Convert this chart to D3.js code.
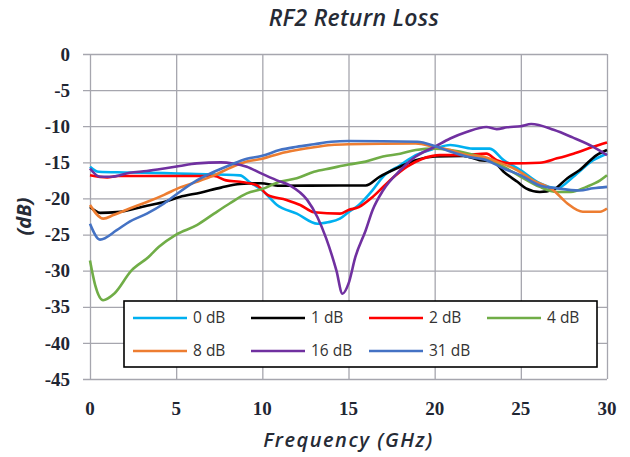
<!DOCTYPE html>
<html>
<head>
<meta charset="utf-8">
<script src="https://cdn.jsdelivr.net/npm/d3@7"></script>
<style>
  body { margin: 0; background: #fff; }
</style>
</head>
<body>
<svg id="chart"></svg>
<script>
// series labels and colours (legend order)
const seriesNames = ["0 dB", "1 dB", "2 dB", "4 dB", "8 dB", "16 dB", "31 dB"];
const seriesColors = ["#00b0f0", "#000000", "#ff0000", "#70ad47", "#ed7d31", "#7030a0", "#4472c4"];

const xTicks = [0, 5, 10, 15, 20, 25, 30];
const yTicks = [0, -5, -10, -15, -20, -25, -30, -35, -40, -45];

// [frequency GHz, return loss dB]
const att0 = [[0,-15.6],[0.5,-16.3],[2,-16.4],[4.3,-16.5],[5.8,-16.6],[8.7,-16.8],[9.3,-17.8],[10,-18.9],[10.85,-20.9],[12,-22.1],[13.2,-23.5],[13.8,-23.3],[14.5,-22.8],[15,-21.9],[15.6,-20.9],[16.4,-18.85],[17,-17],[18,-15.4],[18.9,-14],[20,-13.1],[20.9,-12.6],[22.2,-13.1],[23.2,-13.1],[24,-14.7],[25,-16.1],[26.1,-17.9],[27.1,-18.6],[28.05,-17],[29.2,-14.7],[30,-13.8]];
const att1 = [[0,-21.2],[0.6,-22],[1.55,-21.9],[3.3,-21],[4.3,-20.5],[5.2,-19.8],[6.4,-19.2],[7.6,-18.5],[8.7,-18],[9.9,-17.9],[11,-18.25],[14.5,-18.2],[16,-18.2],[16.8,-17],[18,-15.6],[18.9,-14.7],[20,-14.2],[21.65,-14.1],[22.6,-14.7],[23.4,-14.9],[24,-16.3],[24.8,-17.7],[25.3,-18.6],[26.1,-19.1],[26.9,-18.75],[27.7,-17.2],[28.4,-16.1],[29.4,-14],[30,-13.3]];
const att2 = [[0,-16.8],[1,-17.1],[1.6,-16.9],[7.2,-16.9],[7.9,-17.5],[8.7,-17.7],[9.7,-18.2],[10.3,-19.5],[11.4,-20.2],[12.2,-20.9],[13,-21.9],[14.5,-22.1],[15,-21.6],[15.6,-21.2],[16.4,-19.8],[17.4,-17.5],[18.4,-15.6],[19.3,-14.5],[20.3,-14],[21.65,-14],[23,-13.8],[23.6,-14.7],[24.4,-15.15],[26.1,-15.05],[27.1,-14.45],[28.05,-13.8],[29.2,-12.85],[30,-12.25]];
const att4 = [[0,-28.6],[0.3,-32],[0.76,-34.1],[1.4,-33.2],[2.4,-30],[3.4,-28.1],[4,-26.7],[5,-25],[6.2,-23.7],[7.2,-22.1],[8.1,-20.7],[9.1,-19.3],[10,-18.7],[11,-17.7],[12,-17.2],[13,-16.3],[14,-15.8],[15,-15.3],[16,-14.9],[17,-14.2],[18,-13.8],[18.9,-13.3],[20,-13.1],[20.9,-13.3],[22,-13.8],[23,-14.5],[24,-15.6],[25,-17],[26.1,-18.4],[27.1,-19.1],[27.9,-19.1],[28.8,-18.4],[29.6,-17.5],[30,-16.8]];
const att8 = [[0,-20.9],[0.78,-22.8],[1.36,-22.3],[2.3,-21.4],[3.3,-20.5],[4.3,-19.5],[5.2,-18.5],[6.2,-17.7],[7.2,-16.8],[8.1,-15.8],[9.1,-14.9],[10,-14.5],[11,-13.8],[12,-13.3],[13,-12.9],[14,-12.6],[15,-12.5],[18.9,-12.4],[20,-12.85],[20.9,-13.3],[21.85,-14],[22.8,-14.2],[23.6,-14.9],[24.8,-16.1],[25.7,-17.5],[26.9,-18.9],[27.7,-20.7],[28.6,-21.85],[29.6,-21.85],[30,-21.4]];
const att16 = [[0,-15.85],[0.58,-17],[1.16,-17],[2.3,-16.45],[3.3,-16.2],[4.3,-15.85],[5.2,-15.5],[6.2,-15.15],[7.6,-15],[8.3,-15.15],[9.1,-15.6],[9.9,-16.5],[10.85,-17.5],[11.6,-18.2],[12.6,-20.2],[13.2,-22.6],[13.7,-25.5],[14.3,-30],[14.65,-33.2],[15,-31.8],[15.4,-28.1],[16,-24.4],[16.4,-21.6],[17,-18.9],[18,-16.1],[18.9,-14.2],[20,-12.85],[20.9,-11.7],[21.85,-10.8],[23,-10.1],[23.6,-10.4],[24.2,-10.15],[25,-10],[25.6,-9.7],[26.9,-10.5],[28,-11.55],[29.2,-12.85],[30,-14]];
const att31 = [[0,-23.5],[0.58,-25.7],[1.55,-24.4],[2.3,-23.2],[3.3,-22.1],[4.3,-20.7],[5.2,-19.1],[6.2,-17.5],[7.2,-16.3],[8.1,-15.4],[9.1,-14.5],[10,-14.1],[11,-13.3],[12,-12.85],[13,-12.5],[14,-12.15],[15,-12.05],[19,-12.15],[20,-12.75],[20.9,-13.5],[21.85,-14.2],[23,-14.7],[24,-15.85],[25,-16.8],[26.1,-18.2],[27.1,-18.6],[28.4,-18.9],[29.2,-18.6],[30,-18.4]];

const seriesData = [att0, att1, att2, att4, att8, att16, att31];

var svgWidth = 630, svgHeight = 457;
var margin = { top: 54, right: 23, bottom: 78, left: 90 };
var width = svgWidth - margin.left - margin.right;
var height = svgHeight - margin.top - margin.bottom;

var svg = d3.select("#chart")
    .attr("width", svgWidth)
    .attr("height", svgHeight);

var g = svg.append("g")
    .attr("transform", "translate(" + margin.left + "," + margin.top + ")");

var x = d3.scaleLinear().domain([0, 30]).range([0, width]);
var y = d3.scaleLinear().domain([-45, 0]).range([height, 0]);

var grid = "#a6a6ae";

// horizontal grid + little ticks on the left
g.append("g")
    .call(d3.axisLeft(y).tickValues(yTicks).tickSize(-width - 7).tickFormat(""))
    .attr("transform", "translate(-7,0)")
    .call(s => s.select(".domain").remove())
    .selectAll("line").attr("stroke", grid).attr("stroke-width", 1.3);

// vertical grid
g.append("g")
    .attr("transform", "translate(0," + height + ")")
    .call(d3.axisBottom(x).tickValues(xTicks).tickSize(-height).tickFormat(""))
    .call(s => s.select(".domain").remove())
    .selectAll("line").attr("stroke", grid).attr("stroke-width", 1.3);

var tickFont = "'Liberation Serif', 'DejaVu Serif', serif";
var textCol = "#1f2633";

// y tick labels
g.append("g")
    .selectAll("text")
    .data(yTicks)
    .enter().append("text")
    .attr("x", -20)
    .attr("y", d => y(d))
    .attr("dy", "0.35em")
    .attr("text-anchor", "end")
    .attr("font-family", tickFont)
    .attr("font-weight", "bold")
    .attr("font-size", 19)
    .attr("fill", textCol)
    .text(d => d);

// x tick labels
g.append("g")
    .selectAll("text")
    .data(xTicks)
    .enter().append("text")
    .attr("x", d => x(d))
    .attr("y", height + 36)
    .attr("text-anchor", "middle")
    .attr("font-family", tickFont)
    .attr("font-weight", "bold")
    .attr("font-size", 19)
    .attr("fill", textCol)
    .text(d => d);

var line = d3.line()
    .x(d => x(d[0]))
    .y(d => y(d[1]))
    .curve(d3.curveMonotoneX);

g.append("g")
    .selectAll("path")
    .data(seriesData)
    .enter().append("path")
    .attr("fill", "none")
    .attr("stroke", (d, i) => seriesColors[i])
    .attr("stroke-width", 2.6)
    .attr("stroke-linejoin", "round")
    .attr("d", line);

// title
svg.append("text")
    .attr("x", 354)
    .attr("y", 26)
    .attr("text-anchor", "middle")
    .attr("font-family", "'Open Sans', sans-serif")
    .attr("font-style", "italic")
    .attr("font-weight", 600)
    .attr("font-size", 23)
    .attr("letter-spacing", 0.3)
    .attr("fill", "#262b36")
    .text("RF2 Return Loss");

// axis titles
svg.append("text")
    .attr("x", margin.left + width / 2)
    .attr("y", 447)
    .attr("text-anchor", "middle")
    .attr("font-family", "'Open Sans', sans-serif")
    .attr("font-style", "italic")
    .attr("font-weight", 600)
    .attr("font-size", 20)
    .attr("letter-spacing", 1.5)
    .attr("fill", "#262b36")
    .text("Frequency (GHz)");

svg.append("text")
    .attr("transform", "translate(31," + (margin.top + height / 2) + ") rotate(-90)")
    .attr("text-anchor", "middle")
    .attr("font-family", "'Open Sans', sans-serif")
    .attr("font-style", "italic")
    .attr("font-weight", "bold")
    .attr("font-size", 20)
    .attr("fill", "#262b36")
    .text("(dB)");

// legend
var legend = svg.append("g").attr("transform", "translate(124,301)");
legend.append("rect")
    .attr("width", 473)
    .attr("height", 66)
    .attr("fill", "#fff")
    .attr("stroke", "#000")
    .attr("stroke-width", 1.6);

var item = legend.selectAll(".item")
    .data(seriesNames)
    .enter().append("g")
    .attr("transform", (d, i) => "translate(" + (9 + (i % 4) * 118) + "," + (17 + Math.floor(i / 4) * 33) + ")");

item.append("line")
    .attr("x1", 0).attr("x2", 54)
    .attr("stroke", (d, i) => seriesColors[i])
    .attr("stroke-width", 2.6);

item.append("text")
    .attr("x", 60)
    .attr("dy", "0.35em")
    .attr("font-family", "'Open Sans', sans-serif")
    .attr("font-size", 15.5)
    .attr("fill", "#333")
    .text(d => d);
</script>
</body>
</html>
